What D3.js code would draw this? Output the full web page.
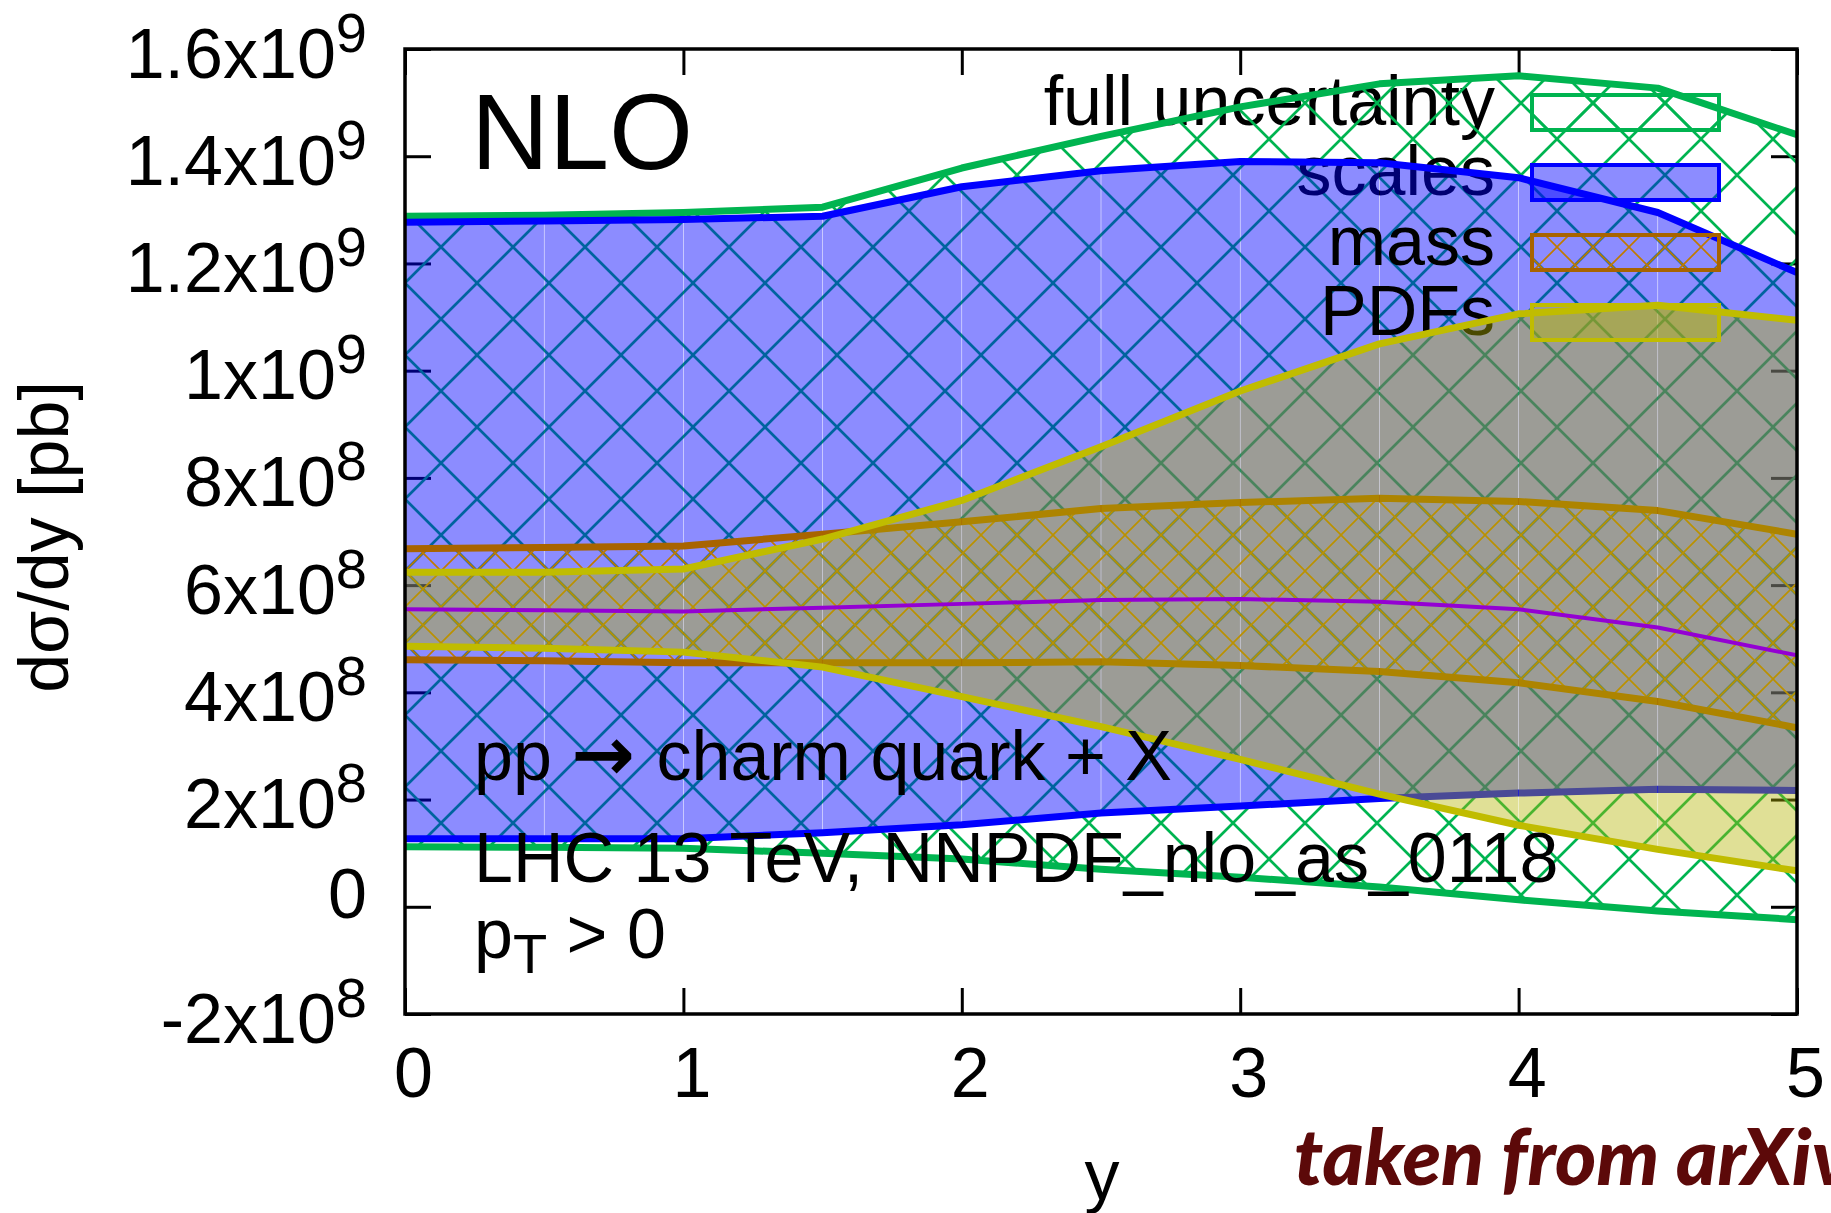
<!DOCTYPE html>
<html>
<head>
<meta charset="utf-8">
<script src="https://cdn.jsdelivr.net/npm/d3@7"></script>
<style>
  html, body { margin: 0; padding: 0; background: #ffffff; }
  svg { display: block; }
</style>
</head>
<body>
<svg id="chart" width="1831" height="1213"></svg>
<script>
// Rapidity grid of the calculation
const rapidity   = [0, 0.5, 1, 1.5, 2, 2.5, 3, 3.5, 4, 4.5, 5];

// dσ/dy in units of 1e8 pb
const fullUpper  = [12.88, 12.90, 12.95, 13.05, 13.78, 14.37, 14.92, 15.35, 15.50, 15.27, 14.40];
const fullLower  = [1.12, 1.11, 1.09, 1.00, 0.89, 0.70, 0.55, 0.37, 0.13, -0.08, -0.24];
const scaleUpper = [12.77, 12.79, 12.82, 12.88, 13.43, 13.73, 13.90, 13.88, 13.60, 12.95, 11.83];
const scaleLower = [1.27, 1.27, 1.27, 1.38, 1.53, 1.75, 1.88, 2.02, 2.12, 2.19, 2.17];
const massUpper  = [6.68, 6.70, 6.73, 6.95, 7.18, 7.43, 7.54, 7.62, 7.56, 7.39, 6.95];
const massLower  = [4.61, 4.59, 4.55, 4.55, 4.55, 4.57, 4.50, 4.39, 4.18, 3.83, 3.34];
const pdfUpper   = [6.24, 6.24, 6.30, 6.86, 7.58, 8.58, 9.62, 10.50, 11.06, 11.22, 10.94];
const pdfLower   = [4.86, 4.82, 4.75, 4.47, 3.92, 3.36, 2.75, 2.10, 1.52, 1.07, 0.67];
const central    = [5.55, 5.53, 5.51, 5.58, 5.65, 5.72, 5.74, 5.69, 5.55, 5.21, 4.69];
const UNIT = 1e8;

// Axis ticks and their labels (mantissa + exponent)
const xTickValues   = [0, 1, 2, 3, 4, 5];
const yTickValues   = [-2e8, 0, 2e8, 4e8, 6e8, 8e8, 1e9, 1.2e9, 1.4e9, 1.6e9];
const yTickMantissa = ["-2x10", "0", "2x10", "4x10", "6x10", "8x10", "1x10", "1.2x10", "1.4x10", "1.6x10"];
const yTickExponent = ["8", "", "8", "8", "8", "8", "9", "9", "9", "9"];

const legendLabels = ["full uncertainty", "scales", "mass", "PDFs"];

// ---------------------------------------------------------------------------
const FONT = "'Liberation Sans', Arial, Helvetica, sans-serif";
const COL = {
  green: "#00b450",
  blue: "#0000ff",
  blueFill: "rgba(0,0,255,0.45)",
  mass: "#a86400",
  massHatch: "#c07a00",
  yellow: "#c0bc00",
  yellowFill: "rgba(180,180,0,0.41)",
  purple: "#9400d3"
};

const svg = d3.select("#chart");
const plot = { left: 405, right: 1797, top: 49, bottom: 1014 };

const x = d3.scaleLinear().domain([0, 5]).range([plot.left, plot.right]);
const y = d3.scaleLinear().domain([-2e8, 1.6e9]).range([plot.bottom, plot.top]);

const defs = svg.append("defs");
defs.append("clipPath").attr("id", "plotClip")
  .append("rect")
  .attr("x", plot.left).attr("y", plot.top)
  .attr("width", plot.right - plot.left).attr("height", plot.bottom - plot.top);

// Cross-hatch pattern: two diagonal line families, continuous across tiles
function crossHatch(id, size, color, width, ox, oy) {
  const p = defs.append("pattern").attr("id", id)
    .attr("patternUnits", "userSpaceOnUse")
    .attr("x", ox).attr("y", oy)
    .attr("width", size).attr("height", size);
  const e = size * 0.15;
  const s = size;
  p.append("path")
    .attr("d",
      `M${-e},${-e}L${s + e},${s + e}` +
      `M${s + e},${-e}L${-e},${s + e}` +
      `M${-e},${e}L${e},${-e}` +
      `M${s - e},${s + e}L${s + e},${s - e}`)
    .attr("stroke", color).attr("stroke-width", width).attr("fill", "none");
}
// coarse hatch for the full band, doubled density for the mass band (same anchor)
crossHatch("hatchFull", 72, COL.green, 2.7, 477, 715);
crossHatch("hatchMass", 36, COL.massHatch, 1.6, 477, 715);

// Build point records for each band
const pts = (lo, hi) => rapidity.map((r, i) => ({ x: r, lo: lo[i] * UNIT, hi: hi[i] * UNIT }));
const series = (v) => rapidity.map((r, i) => ({ x: r, v: v[i] * UNIT }));

const line = d3.line().x(d => x(d.x)).y(d => y(d.v)).curve(d3.curveLinear);
const area = d3.area().x(d => x(d.x)).y0(d => y(d.lo)).y1(d => y(d.hi)).curve(d3.curveLinear);

// ---------------------------------------------------------------------------
// Ticks (drawn underneath the bands)
const gLeft = svg.append("g").attr("transform", `translate(${plot.left},0)`)
  .call(d3.axisLeft(y).tickValues(yTickValues).tickSize(-26).tickPadding(38).tickFormat(() => ""));
const gRight = svg.append("g").attr("transform", `translate(${plot.right},0)`)
  .call(d3.axisRight(y).tickValues(yTickValues).tickSize(-26).tickFormat(() => ""));
const gBottom = svg.append("g").attr("transform", `translate(0,${plot.bottom})`)
  .call(d3.axisBottom(x).tickValues(xTickValues).tickSize(-26).tickPadding(33).tickFormat(d3.format("d")));
const gTop = svg.append("g").attr("transform", `translate(0,${plot.top})`)
  .call(d3.axisTop(x).tickValues(xTickValues).tickSize(-26).tickFormat(() => ""));

[gLeft, gRight, gBottom, gTop].forEach(g => {
  g.select(".domain").remove();
  g.selectAll(".tick line").attr("stroke", "#000").attr("stroke-width", 3);
  g.attr("font-family", FONT).attr("font-size", 70);
});

// y tick labels with exponents
gLeft.selectAll(".tick text").each(function (d, i) {
  const t = d3.select(this).text(null).attr("dy", null)
    .attr("fill", "#000")
    .attr("y", yTickExponent[i] ? 28 : 11);
  t.append("tspan").text(yTickMantissa[i]);
  if (yTickExponent[i]) {
    t.append("tspan").attr("font-size", 56).attr("dy", -26).text(yTickExponent[i]);
  }
});
gBottom.selectAll(".tick text").attr("fill", "#000").attr("dx", 8);

// ---------------------------------------------------------------------------
// Bands; each plot paints its key entry first, then its data on top
const keyBox = i => ({ x: 1532, y: 95 + 70 * i, w: 187, h: 35 });
const clipped = () => svg.append("g").attr("clip-path", "url(#plotClip)");

function keyText(i) {
  svg.append("text").attr("x", 1495).attr("y", 125 + 70 * i)
    .attr("text-anchor", "end").attr("font-family", FONT).attr("font-size", 70)
    .attr("fill", "#000").text(legendLabels[i]);
}
function keySample(i, fill, stroke) {
  const b = keyBox(i);
  svg.append("rect").attr("x", b.x).attr("y", b.y).attr("width", b.w).attr("height", b.h)
    .attr("fill", fill).attr("stroke", stroke).attr("stroke-width", 4);
}
// Solid band painted one grid interval at a time
function segmentFill(g, recs, fill) {
  for (let i = 0; i < recs.length - 1; i++) {
    const seg = recs.slice(i, i + 2);
    const x0 = x(seg[0].x) + 0.25, x1 = x(seg[1].x) - 0.25;
    const segArea = d3.area()
      .x((d, j) => j === 0 ? x0 : x1)
      .y0(d => y(d.lo)).y1(d => y(d.hi));
    g.append("path").attr("d", segArea(seg)).attr("fill", fill);
  }
}
function edgeLines(g, lo, hi, color, w) {
  [lo, hi].forEach(v => {
    g.append("path").attr("d", line(series(v)))
      .attr("fill", "none").attr("stroke", color).attr("stroke-width", w)
      .attr("stroke-linejoin", "round");
  });
}

// full uncertainty
keyText(0);
clipped().append("path").attr("d", area(pts(fullLower, fullUpper))).attr("fill", "url(#hatchFull)");
keySample(0, "url(#hatchFull)", COL.green);
edgeLines(clipped(), fullLower, fullUpper, COL.green, 7);

// scales
keyText(1);
segmentFill(clipped(), pts(scaleLower, scaleUpper), COL.blueFill);
keySample(1, COL.blueFill, COL.blue);
edgeLines(clipped(), scaleLower, scaleUpper, COL.blue, 7);

// mass
keyText(2);
clipped().append("path").attr("d", area(pts(massLower, massUpper))).attr("fill", "url(#hatchMass)");
keySample(2, "url(#hatchMass)", COL.mass);
edgeLines(clipped(), massLower, massUpper, COL.mass, 7);

// PDFs
keyText(3);
segmentFill(clipped(), pts(pdfLower, pdfUpper), COL.yellowFill);
keySample(3, COL.yellowFill, COL.yellow);
edgeLines(clipped(), pdfLower, pdfUpper, COL.yellow, 7);

// central value
clipped().append("path").attr("d", line(series(central)))
  .attr("fill", "none").attr("stroke", COL.purple).attr("stroke-width", 4);

// ---------------------------------------------------------------------------
// Labels in front
const labels = svg.append("g").attr("font-family", FONT).attr("fill", "#000");
labels.append("text").attr("x", 471).attr("y", 169).attr("font-size", 108).text("NLO");
const proc = labels.append("text").attr("x", 474).attr("y", 780).attr("font-size", 70);
proc.append("tspan").text("pp ");
proc.append("tspan").attr("font-family", "'DejaVu Sans', sans-serif").attr("font-size", 76)
  .attr("font-weight", "bold").text("\u2192");
proc.append("tspan").attr("dx", 2).text(" charm quark + X");
labels.append("text").attr("x", 474).attr("y", 882).attr("font-size", 70).text("LHC 13 TeV, NNPDF_nlo_as_0118");
const pt = labels.append("text").attr("x", 474).attr("y", 958).attr("font-size", 70);
pt.append("tspan").text("p");
pt.append("tspan").attr("font-size", 56).attr("dy", 15).text("T");
pt.append("tspan").attr("dy", -15).text(" > 0");

// Frame
svg.append("rect")
  .attr("x", plot.left).attr("y", plot.top)
  .attr("width", plot.right - plot.left).attr("height", plot.bottom - plot.top)
  .attr("fill", "none").attr("stroke", "#000").attr("stroke-width", 3.5);

// Axis titles
svg.append("text").attr("x", 1102).attr("y", 1199)
  .attr("text-anchor", "middle").attr("font-family", FONT).attr("font-size", 70).text("y");
svg.append("text").attr("transform", "translate(68,537) rotate(-90)")
  .attr("text-anchor", "middle").attr("font-family", FONT).attr("font-size", 70)
  .text("d\u03c3/dy [pb]");

// Source note
const note = svg.append("text").attr("x", 1294).attr("y", 1185)
  .attr("font-family", "Lato, 'Open Sans', sans-serif").attr("font-weight", 900)
  .attr("font-style", "italic").attr("font-size", 72).attr("fill", "#5c0909")
  .text("taken from arXiv");
const span = note.node().getSubStringLength(0, 14);
if (span > 0) note.attr("font-size", 72 * 498 / span);
</script>
</body>
</html>
